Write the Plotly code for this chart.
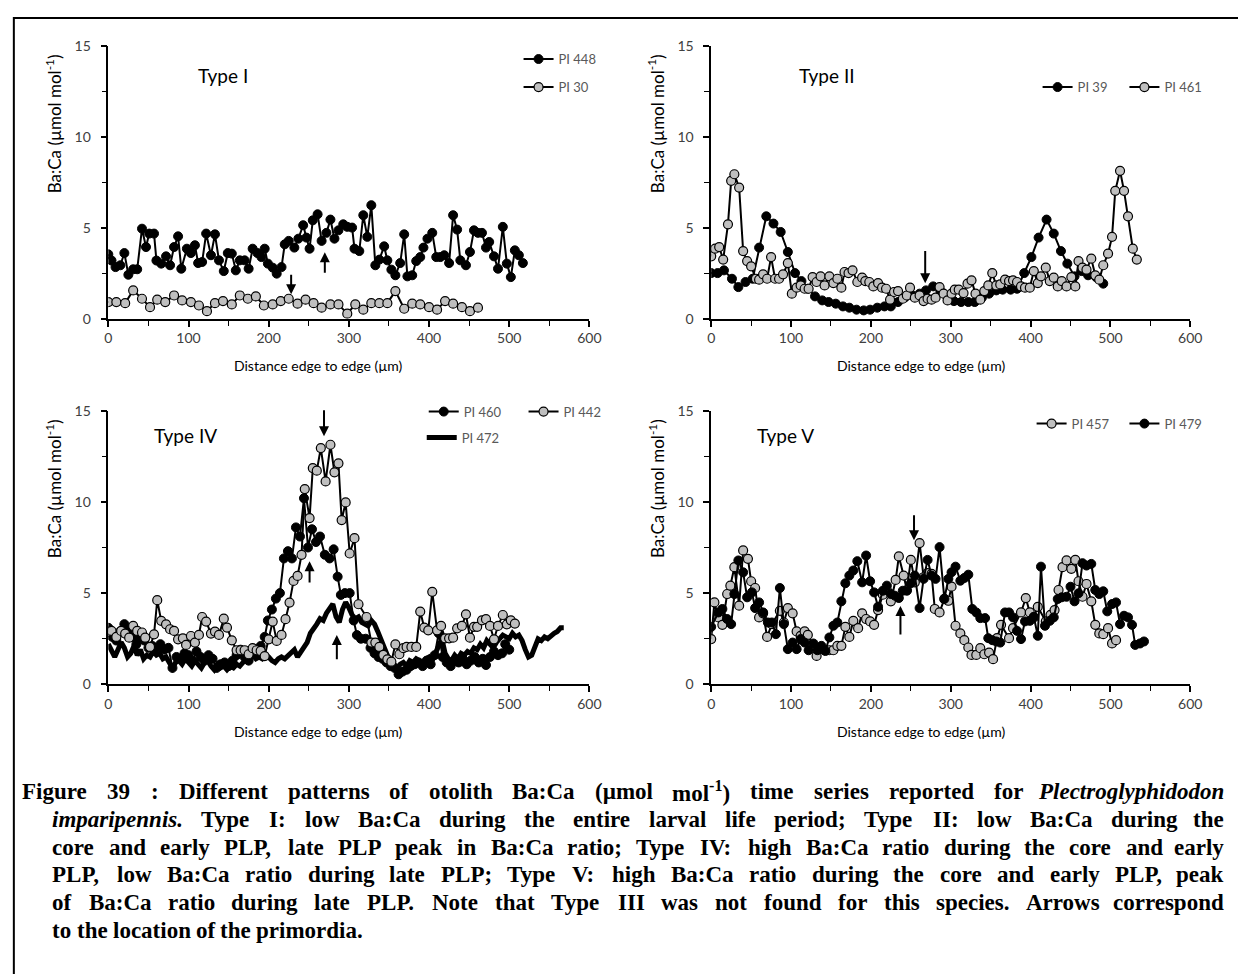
import plotly.graph_objects as go

W, H = 1246, 974
# measured mapping from figure pixels to the photographed page: page = A + S * fig
AX, SX = 10.5, 0.989
AY, SY = 17.0, 0.981

# ---------------- data ----------------
# Type I
x_pi448 = [0, 4, 9, 15, 20, 25, 31, 36, 42, 47, 51, 57, 60, 66, 72, 77, 82, 87, 91, 98,
           103, 108, 112, 117, 122, 128, 133, 138, 144, 149, 154, 159, 164, 170, 175, 180, 186, 191, 195, 199,
           205, 210, 216, 220, 225, 232, 237, 243, 247, 251, 255, 261, 266, 272, 277, 282, 287, 293, 298, 304,
           307, 313, 318, 323, 328, 333, 338, 344, 348, 353, 358, 364, 369, 373, 379, 384, 389, 393, 398, 404,
           409, 414, 419, 425, 430, 435, 439, 446, 451, 456, 461, 466, 471, 475, 481, 486, 492, 497, 502, 507,
           512, 517]
y_pi448 = [3.54, 3.20, 2.84, 2.94, 3.61, 2.42, 2.72, 2.72, 4.95, 3.94, 4.68, 4.68, 3.20, 3.03, 3.43, 2.94, 3.94, 4.53, 2.75, 3.85,
           3.61, 4.04, 3.06, 3.12, 4.68, 3.49, 4.64, 3.21, 2.62, 3.61, 3.58, 2.66, 3.21, 3.21, 2.75, 3.85, 3.61, 3.39, 3.85, 3.03,
           2.81, 2.48, 2.84, 4.09, 4.28, 3.91, 4.40, 5.14, 4.46, 3.85, 5.41, 5.74, 4.28, 4.72, 5.45, 4.40, 4.86, 5.19, 5.05, 5.01,
           3.85, 3.72, 5.69, 4.50, 6.24, 2.94, 3.25, 3.98, 3.21, 2.70, 2.39, 3.06, 4.64, 2.33, 2.39, 3.17, 3.39, 3.91, 4.40, 4.72,
           3.39, 3.39, 3.49, 3.06, 5.69, 4.90, 3.21, 2.94, 3.67, 4.86, 4.72, 4.72, 3.91, 4.22, 3.43, 2.75, 5.05, 3.03, 2.29, 3.76,
           3.49, 3.06]
x_pi30 = [0, 10, 21, 31, 42, 52, 61, 71, 82, 92, 103, 113, 123, 133, 143, 154, 164, 174, 184, 194,
          205, 215, 225, 236, 246, 256, 266, 277, 287, 298, 308, 318, 328, 338, 348, 358, 369, 379, 389, 400,
          410, 420, 430, 441, 451, 461]
y_pi30 = [0.92, 0.92, 0.86, 1.56, 1.10, 0.64, 1.05, 0.92, 1.28, 1.01, 0.92, 0.73, 0.42, 0.86, 0.97, 0.79, 1.28, 1.10, 1.23, 0.73,
          0.79, 0.97, 1.10, 0.83, 1.05, 0.86, 0.61, 0.79, 0.79, 0.28, 0.79, 0.50, 0.86, 0.86, 0.86, 1.52, 0.55, 0.83, 0.79, 0.64,
          0.50, 0.97, 0.83, 0.64, 0.42, 0.61]

# Type II
x_pi39 = [0, 8, 16, 26, 34, 43, 52, 60, 69, 78, 87, 96, 105, 113, 121, 130, 139, 147, 156, 165,
          173, 182, 191, 199, 208, 217, 225, 234, 243, 252, 261, 269, 278, 287, 296, 304, 313, 322, 330, 339,
          348, 357, 365, 375, 383, 392, 401, 410, 420, 429, 438, 446, 455, 464, 472, 482, 491]
y_pi39 = [2.51, 2.51, 2.66, 2.20, 1.74, 2.02, 2.20, 3.91, 5.63, 5.23, 4.77, 3.67, 2.51, 2.07, 1.65, 1.23, 1.01, 0.92, 0.83, 0.68,
          0.61, 0.50, 0.46, 0.50, 0.61, 0.68, 0.68, 0.92, 1.19, 1.28, 1.38, 1.56, 1.78, 1.52, 1.19, 0.97, 0.92, 0.92, 0.92, 1.16,
          1.38, 1.56, 1.60, 1.60, 1.65, 2.51, 3.39, 4.46, 5.45, 4.68, 3.72, 3.03, 2.33, 2.62, 2.39, 2.29, 1.93]
x_pi461 = [0, 5, 10, 15, 21, 25, 29, 35, 40, 45, 50, 56, 60, 65, 70, 75, 80, 85, 90, 96,
           101, 107, 112, 117, 122, 127, 132, 137, 142, 148, 153, 158, 163, 167, 172, 177, 183, 189, 193, 198,
           203, 209, 214, 219, 224, 229, 234, 240, 245, 249, 255, 261, 266, 271, 276, 281, 286, 291, 296, 301,
           305, 310, 316, 321, 326, 331, 337, 342, 347, 352, 357, 362, 368, 373, 378, 383, 388, 393, 399, 404,
           409, 413, 419, 424, 429, 434, 439, 445, 451, 456, 460, 465, 470, 476, 481, 486, 491, 497, 502, 506,
           512, 517, 522, 528, 533]
y_pi461 = [3.43, 3.85, 3.94, 3.25, 5.19, 7.58, 7.94, 7.21, 3.72, 3.17, 2.88, 2.20, 2.15, 2.44, 2.20, 3.39, 2.20, 2.20, 2.44, 3.06,
           1.38, 1.71, 1.83, 1.65, 1.65, 2.29, 2.02, 2.33, 1.83, 2.33, 1.96, 2.20, 1.71, 2.57, 2.51, 2.66, 2.02, 2.26, 2.07, 2.02,
           1.78, 1.96, 1.71, 1.65, 1.05, 1.47, 1.52, 1.10, 1.28, 1.71, 1.16, 1.28, 0.97, 1.10, 1.05, 1.16, 1.74, 1.38, 1.01, 1.38,
           1.60, 1.60, 1.41, 1.93, 2.11, 1.38, 1.05, 1.52, 1.83, 2.51, 1.83, 1.89, 2.15, 2.07, 2.11, 2.02, 1.78, 1.71, 1.71, 2.62,
           1.96, 2.33, 2.81, 2.07, 2.26, 1.78, 2.07, 1.78, 2.29, 1.78, 3.17, 2.81, 2.70, 3.30, 2.39, 2.15, 2.94, 3.58, 4.50, 7.03,
           8.13, 7.03, 5.63, 3.85, 3.25]

# Type IV
x_pi460 = [0, 5, 10, 15, 20, 25, 30, 35, 40, 45, 50, 55, 60, 65, 70, 75, 80, 85, 90, 95,
           100, 105, 110, 115, 120, 125, 130, 135, 140, 145, 150, 155, 160, 165, 170, 175, 180, 185, 190, 195,
           199, 204, 209, 214, 219, 224, 229, 234, 239, 244, 249, 254, 259, 264, 270, 276, 281, 286, 290, 295,
           301, 306, 310, 315, 321, 327, 332, 337, 342, 347, 352, 357, 362, 367, 372, 377, 382, 387, 392, 397,
           402, 407, 412, 417, 422, 427, 432, 437, 442, 447, 452, 457, 462, 467, 471, 476, 481, 486, 491, 495,
           500]
y_pi460 = [3.1, 2.6, 2.4, 2.9, 3.3, 3.0, 2.6, 2.2, 2.5, 2.4, 2.0, 2.1, 2.0, 2.2, 1.9, 2.0, 0.9, 1.5, 1.4, 1.7,
           1.6, 1.3, 1.8, 1.5, 1.3, 1.6, 1.4, 0.9, 1.1, 1.2, 1.0, 1.3, 1.6, 1.9, 1.5, 1.3, 1.7, 1.9, 2.1, 2.6,
           3.5, 4.1, 4.7, 5.0, 6.9, 7.3, 6.9, 8.6, 8.1, 10.2, 7.5, 8.5, 7.8, 8.1, 7.1, 6.9, 7.4, 5.9, 4.9, 5.0,
           5.0, 3.5, 2.7, 2.5, 2.5, 2.0, 1.7, 1.5, 1.4, 1.2, 1.0, 0.9, 0.55, 0.7, 0.8, 1.0, 1.1, 1.2, 1.0, 1.3,
           1.1, 1.6, 2.8, 1.5, 1.2, 1.0, 1.3, 1.2, 1.4, 1.1, 1.3, 1.5, 1.2, 1.4, 1.06, 1.5, 1.8, 1.6, 1.7, 2.2,
           1.9]
x_pi442 = [0, 4, 10, 16, 21, 26, 31, 36, 42, 46, 52, 57, 61, 66, 72, 77, 82, 87, 93, 97,
           103, 108, 113, 117, 122, 128, 133, 138, 144, 148, 154, 160, 165, 170, 175, 180, 185, 190, 195, 200,
           205, 210, 216, 221, 226, 231, 236, 241, 245, 251, 255, 260, 265, 271, 277, 282, 287, 291, 296, 301,
           307, 312, 322, 328, 333, 338, 343, 348, 353, 358, 363, 368, 372, 378, 384, 389, 394, 399, 404, 410,
           415, 420, 425, 430, 435, 441, 446, 451, 456, 460, 466, 471, 476, 481, 486, 492, 497, 502, 507]
y_pi442 = [2.89, 2.93, 2.60, 2.93, 2.78, 2.56, 3.20, 2.93, 2.84, 2.56, 2.05, 2.74, 4.61, 3.48, 3.29, 3.02, 2.93, 2.47, 2.52, 2.16,
           2.65, 2.29, 2.71, 3.69, 3.44, 2.78, 2.89, 2.71, 3.60, 3.11, 2.41, 1.87, 1.87, 1.87, 1.65, 1.98, 1.87, 1.83, 1.55, 2.47,
           3.44, 2.38, 2.71, 3.57, 4.48, 5.67, 5.94, 7.10, 10.70, 9.11, 11.85, 11.71, 12.95, 11.12, 13.13, 11.62, 12.11, 9.00, 9.97, 7.17,
           8.01, 4.39, 3.69, 2.29, 2.29, 2.05, 1.61, 1.37, 1.24, 2.19, 1.65, 1.98, 2.05, 2.05, 2.05, 3.99, 3.11, 2.96, 5.07, 2.96,
           3.20, 2.52, 2.52, 2.56, 3.07, 3.20, 3.84, 2.56, 3.15, 3.15, 3.51, 3.57, 3.20, 2.47, 3.20, 3.80, 3.29, 3.51, 3.33]
x_pi472 = [0, 4, 8, 12, 16, 20, 24, 28, 32, 36, 40, 44, 48, 52, 56, 60, 64, 68, 72, 76,
           80, 84, 88, 92, 96, 100, 104, 108, 112, 116, 120, 124, 128, 132, 136, 140, 144, 148, 152, 156,
           160, 164, 168, 172, 176, 180, 184, 188, 192, 196, 200, 204, 208, 212, 216, 220, 224, 228, 232, 236,
           240, 244, 248, 252, 256, 260, 264, 268, 272, 276, 280, 284, 288, 292, 296, 300, 304, 308, 312, 316,
           320, 324, 328, 332, 336, 340, 344, 348, 352, 356, 360, 364, 368, 372, 376, 380, 384, 388, 392, 396,
           400, 404, 408, 412, 416, 420, 424, 428, 432, 436, 440, 444, 448, 452, 456, 460, 464, 468, 472, 476,
           480, 484, 488, 492, 496, 500, 504, 508, 512, 516, 520, 524, 528, 532, 536, 540, 544, 548, 552, 556,
           560, 564, 568]
y_pi472 = [2.2, 1.8, 1.5, 1.9, 2.3, 2.0, 1.5, 1.7, 2.1, 1.6, 1.9, 1.4, 1.6, 1.5, 1.8, 1.6, 1.7, 1.4, 1.5, 1.2,
           0.9, 1.2, 1.3, 1.1, 1.4, 1.2, 1.0, 1.3, 1.1, 0.9, 1.2, 1.3, 1.0, 0.8, 1.1, 0.9, 1.0, 0.8, 1.0, 0.9,
           1.1, 1.0, 1.2, 1.3, 1.4, 1.6, 1.4, 1.5, 1.4, 1.6, 1.5, 1.3, 1.2, 1.4, 1.5, 1.4, 1.6, 1.8, 1.9, 1.5,
           1.8, 2.0, 2.3, 2.8, 3.0, 3.3, 3.6, 3.5, 3.9, 4.1, 4.4, 3.7, 3.4, 4.1, 4.5, 4.2, 3.8, 3.6, 3.7, 3.4,
           3.3, 3.2, 3.5, 3.3, 2.9, 2.4, 2.0, 1.6, 1.3, 1.1, 0.9, 1.1, 1.2, 1.0, 1.3, 1.2, 1.4, 1.3, 1.1, 1.4,
           1.5, 1.3, 1.8, 2.1, 2.5, 1.7, 1.4, 1.3, 1.6, 1.4, 1.7, 1.6, 1.8, 1.7, 2.0, 1.9, 2.2, 2.0, 2.4, 2.2,
           2.0, 2.3, 2.5, 2.7, 2.6, 2.5, 2.8, 2.6, 2.7, 2.4, 1.9, 1.5, 1.6, 2.1, 2.5, 2.4, 2.6, 2.5, 2.7, 2.8,
           2.9, 3.1, 3.1]

# Type V
x_pi457 = [0, 4, 9, 14, 20, 24, 29, 35, 40, 46, 50, 55, 60, 65, 70, 76, 86, 91, 96, 102,
           107, 112, 117, 121, 127, 132, 137, 142, 148, 153, 158, 163, 168, 173, 178, 184, 189, 194, 199, 204,
           209, 215, 220, 225, 231, 235, 241, 245, 250, 255, 261, 266, 271, 276, 280, 286, 292, 297, 301, 306,
           312, 317, 322, 326, 332, 337, 342, 348, 353, 358, 363, 373, 378, 388, 394, 399, 404, 409, 419, 425,
           430, 435, 440, 445, 451, 456, 460, 465, 470, 476, 481, 486, 491, 497, 502, 507]
y_pi457 = [2.48, 4.49, 3.67, 3.26, 4.95, 5.41, 6.42, 4.31, 7.34, 6.88, 5.65, 5.28, 3.67, 3.89, 2.60, 3.30, 4.03, 3.39, 4.18, 3.89,
           2.90, 2.66, 2.90, 2.71, 2.16, 1.56, 1.98, 1.87, 1.87, 1.87, 2.11, 2.11, 3.15, 2.60, 3.48, 3.08, 3.89, 3.58, 3.45, 3.26,
           4.07, 4.91, 5.17, 4.55, 5.72, 7.01, 5.96, 5.17, 6.82, 5.59, 7.74, 5.87, 6.09, 6.05, 4.13, 3.94, 4.68, 4.58, 5.35, 3.21,
           2.79, 2.42, 2.02, 1.61, 1.61, 1.98, 1.65, 1.74, 1.38, 2.53, 3.26, 2.53, 3.08, 3.94, 4.73, 3.94, 3.67, 4.25, 3.45, 3.81,
           4.07, 5.17, 6.42, 6.79, 6.33, 6.82, 5.65, 4.80, 5.50, 4.55, 3.26, 2.79, 2.75, 3.08, 2.24, 2.42]
x_pi479 = [0, 9, 14, 20, 25, 29, 34, 40, 45, 51, 55, 60, 65, 71, 76, 81, 86, 91, 96, 102,
           107, 112, 117, 122, 128, 133, 138, 143, 148, 153, 158, 163, 168, 173, 178, 183, 189, 194, 199, 204,
           209, 215, 220, 225, 230, 235, 240, 245, 250, 255, 261, 266, 271, 276, 281, 286, 292, 297, 301, 306,
           312, 317, 322, 327, 332, 337, 343, 347, 352, 357, 362, 368, 373, 378, 383, 388, 393, 399, 404, 409,
           413, 418, 424, 429, 434, 439, 445, 450, 455, 460, 465, 470, 476, 481, 486, 491, 496, 502, 507, 512,
           517, 522, 527, 531, 537, 542]
y_pi479 = [3.15, 3.94, 4.13, 3.58, 3.30, 4.95, 6.79, 6.14, 4.77, 5.04, 4.18, 4.49, 3.94, 3.39, 3.39, 2.75, 5.28, 3.30, 1.93, 2.29,
           1.93, 2.48, 2.29, 1.87, 2.24, 1.87, 2.11, 1.83, 2.57, 3.21, 3.39, 4.55, 5.54, 5.96, 6.24, 6.75, 5.59, 7.06, 5.65, 5.04,
           4.25, 5.13, 5.41, 4.95, 4.86, 4.73, 5.13, 5.13, 5.54, 5.96, 4.18, 5.78, 6.82, 5.96, 5.78, 7.52, 4.68, 5.78, 6.14, 6.45,
           5.68, 5.83, 6.01, 4.13, 3.94, 3.63, 3.63, 2.53, 2.42, 2.35, 2.29, 3.94, 3.94, 3.67, 2.93, 2.48, 3.45, 3.48, 3.70, 2.66,
           6.45, 3.21, 3.48, 3.67, 4.68, 4.77, 4.80, 5.35, 4.55, 4.99, 6.64, 6.51, 6.60, 5.17, 4.95, 5.10, 4.00, 4.40, 4.49, 3.30,
           3.76, 3.67, 3.26, 2.16, 2.24, 2.35]

# primordium arrows: (panel, x, tail y, head y)
arrows = [
    (1, 228, 2.5, 1.35), (1, 270, 2.45, 3.65),
    (2, 268, 3.8, 1.95),
    (3, 269, 15.1, 13.6), (3, 251, 5.5, 6.75), (3, 285, 1.3, 2.7),
    (4, 254, 9.35, 7.9), (4, 237, 2.65, 4.3),
]

panel_types = ["Type I", "Type II", "Type IV", "Type V"]

caption = [
    "Figure 39 : Different patterns of otolith Ba:Ca (µmol mol<sup>-1</sup>) time series reported for <i>Plectroglyphidodon</i>",
    "<i>imparipennis.</i> Type I: low Ba:Ca during the entire larval life period; Type II: low Ba:Ca during the",
    "core and early PLP, late PLP peak in Ba:Ca ratio; Type IV: high Ba:Ca ratio during the core and early",
    "PLP, low Ba:Ca ratio during late PLP; Type V: high Ba:Ca ratio during the core and early PLP, peak",
    "of Ba:Ca ratio during late PLP. Note that Type III was not found for this species. Arrows correspond",
    "to the location of the primordia.",
]


# ---------------- helpers ----------------
def px_x(p):
    return (p - AX) / SX / W


def px_y(p):
    return 1 - (p - AY) / SY / H


# Times bold / bold-italic advance widths (per 1000 em), for justifying the caption
BOLD = dict(zip("ABCDEFGHIJKLMNOPQRSTUVWXYZ",
                [722, 667, 722, 722, 667, 611, 778, 778, 389, 500, 778, 667, 944, 722, 778, 611, 778, 722, 556, 667,
                 722, 722, 1000, 722, 722, 667]))
BOLD.update(zip("abcdefghijklmnopqrstuvwxyz",
                [500, 556, 444, 556, 444, 333, 500, 556, 278, 333, 556, 278, 833, 556, 500, 556, 556, 444, 389, 333,
                 556, 500, 722, 500, 500, 444]))
BOLD.update({" ": 250, ":": 333, ";": 333, ",": 250, ".": 250, "(": 333, ")": 333, "-": 333, "µ": 556})
BOLD.update({str(d): 500 for d in range(10)})
BITAL = dict(BOLD)
BITAL.update(zip("abcdefghijklmnopqrstuvwxyz",
                 [500, 500, 444, 500, 444, 333, 500, 556, 278, 278, 500, 278, 778, 556, 500, 500, 500, 389, 389, 278,
                  556, 444, 667, 500, 444, 389]))


def word_width(word, size):
    w, ital, sup, i = 0.0, False, False, 0
    while i < len(word):
        if word[i] == "<":
            tag = word[i:word.index(">", i) + 1]
            ital = {"<i>": True, "</i>": False}.get(tag, ital)
            sup = {"<sup>": True, "</sup>": False}.get(tag, sup)
            i += len(tag)
            continue
        table = BITAL if ital else BOLD
        w += table.get(word[i], 500) * size / 1000 * (0.7 if sup else 1.0)
        i += 1
    return w * SX


boxes = [(107, 589, 45.7, 318.3), (711, 1191, 45.7, 318.3),
         (107, 589, 410, 683.3), (711, 1191, 410, 683.3)]

BLACK_M = dict(symbol="circle", size=9, color="black", line=dict(color="black", width=1))
GREY_M = dict(symbol="circle", size=9, color="#bfbfbf", line=dict(color="black", width=1.2))
LINE = dict(color="black", width=2)

fig = go.Figure()

series = [
    # (panel, name, x, y, marker, line, legend id, legend pos in px (left, middle))
    (1, "PI 448", x_pi448, y_pi448, BLACK_M, LINE, "legend", (518, 59)),
    (1, "PI 30", x_pi30, y_pi30, GREY_M, LINE, "legend2", (518, 87)),
    (2, "PI 39", x_pi39, y_pi39, BLACK_M, LINE, "legend3", (1038, 87)),
    (2, "PI 461", x_pi461, y_pi461, GREY_M, LINE, "legend4", (1125, 87)),
    (3, "PI 460", x_pi460, y_pi460, BLACK_M, LINE, "legend5", (423, 411)),
    (3, "PI 472", x_pi472, y_pi472, None, dict(color="black", width=5), "legend7", (421, 437)),
    (3, "PI 442", x_pi442, y_pi442, GREY_M, LINE, "legend6", (523, 411)),
    (4, "PI 457", x_pi457, y_pi457, GREY_M, LINE, "legend8", (1032, 423)),
    (4, "PI 479", x_pi479, y_pi479, BLACK_M, LINE, "legend9", (1125, 423)),
]

legends = {}
for panel, name, xs, ys, mk, ln, lg, pos in series:
    suffix = "" if panel == 1 else str(panel)
    fig.add_trace(go.Scatter(
        x=xs, y=ys, name=name,
        mode="lines" if mk is None else "lines+markers",
        marker=mk, line=ln,
        xaxis="x" + suffix, yaxis="y" + suffix,
        legend=lg,
    ))
    legends[lg] = dict(
        x=px_x(pos[0]), y=px_y(pos[1]), xanchor="left", yanchor="middle",
        bgcolor="rgba(0,0,0,0)", borderwidth=0,
        font=dict(family="Lato", size=13, color="#595959"),
        itemwidth=30, tracegroupgap=0,
    )

axis_font = dict(family="Lato", size=14, color="#404040")
title_font = dict(family="Lato", size=14, color="black")

layout_axes = {}
for i, (l, r, t, b) in enumerate(boxes):
    suffix = "" if i == 0 else str(i + 1)
    layout_axes["xaxis" + suffix] = dict(
        domain=[px_x(l), px_x(r)], range=[0, 600], anchor="y" + suffix,
        dtick=100, ticks="outside", ticklen=6, tickwidth=1.5, tickcolor="black",
        minor=dict(dtick=50, ticks="outside", ticklen=5, tickwidth=1.2, tickcolor="black"),
        showline=True, linecolor="black", linewidth=1.5,
        showgrid=False, zeroline=False, tickfont=axis_font,
    )
    layout_axes["yaxis" + suffix] = dict(
        domain=[px_y(b), px_y(t)], range=[0, 15], anchor="x" + suffix,
        dtick=5, ticks="outside", ticklen=6, tickwidth=1.5, tickcolor="black",
        minor=dict(dtick=2.5, ticks="outside", ticklen=5, tickwidth=1.2, tickcolor="black"),
        showline=True, linecolor="black", linewidth=1.5,
        showgrid=False, zeroline=False, tickfont=axis_font, ticklabelstandoff=7,
    )

annotations = []
type_pos = [(195, 75), (797, 75), (151, 435), (755, 435)]
for txt, (px, py) in zip(panel_types, type_pos):
    annotations.append(dict(
        text=txt, x=px_x(px), y=px_y(py), xref="paper", yref="paper",
        xanchor="left", yanchor="middle", showarrow=False,
        font=dict(family="Lato", size=19, color="black"),
    ))

# axis titles: x titles sit a little left of the axis centre, y titles in the upper part
for l, r, t, b in boxes:
    annotations.append(dict(
        text="Distance edge to edge (µm)", x=px_x(l + 211), y=px_y(b + 47), xref="paper", yref="paper",
        xanchor="center", yanchor="middle", showarrow=False, font=title_font,
    ))
    annotations.append(dict(
        text="Ba:Ca (µmol mol<sup>-1</sup>)", x=px_x(l - 55), y=px_y(t + 78), xref="paper", yref="paper",
        xanchor="center", yanchor="middle", showarrow=False, textangle=-90,
        font=dict(family="Lato", size=17, color="black"),
    ))

for panel, xa, ytail, yhead in arrows:
    suffix = "" if panel == 1 else str(panel)
    annotations.append(dict(
        x=xa, y=yhead, ax=xa, ay=ytail,
        xref="x" + suffix, yref="y" + suffix, axref="x" + suffix, ayref="y" + suffix,
        text="", showarrow=True, arrowhead=2, arrowsize=1, arrowwidth=2, arrowcolor="black",
    ))

# justified caption: each word placed on its own, last word pinned to the right margin
CAP_SIZE = 23
cap_y = [790, 818, 846, 873, 901, 929]
for i, (line, cy) in enumerate(zip(caption, cap_y)):
    words = line.split(" ")
    widths = [word_width(w, CAP_SIZE) for w in words]
    x0 = 20 if i == 0 else 50
    last_line = i == len(caption) - 1
    gap = 0.25 * CAP_SIZE * SX if last_line else (1226 - x0 - sum(widths)) / (len(words) - 1)
    xpos = x0
    for k, (w, ww) in enumerate(zip(words, widths)):
        pin = (not last_line) and k == len(words) - 1
        annotations.append(dict(
            text="<b>" + w + "</b>", x=px_x(1226 if pin else xpos), y=px_y(cy),
            xref="paper", yref="paper", xanchor="right" if pin else "left", yanchor="middle",
            showarrow=False, borderpad=0,
            font=dict(family="Liberation Serif", size=CAP_SIZE, color="black"),
        ))
        xpos += ww + gap

fig.update_layout(
    width=W, height=H,
    margin=dict(l=0, r=0, t=0, b=0),
    paper_bgcolor="white", plot_bgcolor="white",
    showlegend=True,
    annotations=annotations,
    shapes=[dict(type="rect", xref="paper", yref="paper",
                 x0=0.0015, x1=1.2, y0=-0.2, y1=0.999,
                 line=dict(color="black", width=2))],
    **layout_axes,
    **legends,
)

fig.write_html("out.html")
